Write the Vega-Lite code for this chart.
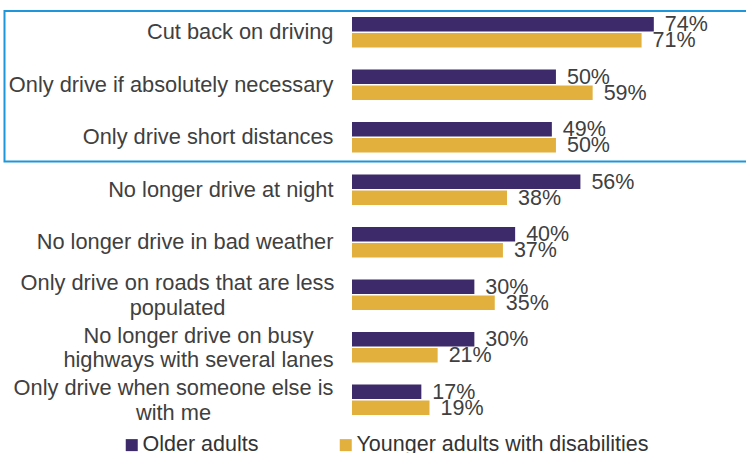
{
  "$schema": "https://vega.github.io/schema/vega-lite/v6.json",
  "width": 394,
  "height": 420,
  "autosize": {"type": "none"},
  "padding": {"left": 352, "top": 6, "right": 0, "bottom": 27},
  "background": "white",
  "config": {
    "view": {"stroke": null},
    "font": "Liberation Sans"
  },
  "datasets": {
    "bars": [
      {"cat": "Cut back on driving", "group": "Older adults", "value": 0.74},
      {"cat": "Cut back on driving", "group": "Younger adults with disabilities", "value": 0.71},
      {"cat": "Only drive if absolutely necessary", "group": "Older adults", "value": 0.50},
      {"cat": "Only drive if absolutely necessary", "group": "Younger adults with disabilities", "value": 0.59},
      {"cat": "Only drive short distances", "group": "Older adults", "value": 0.49},
      {"cat": "Only drive short distances", "group": "Younger adults with disabilities", "value": 0.50},
      {"cat": "No longer drive at night", "group": "Older adults", "value": 0.56},
      {"cat": "No longer drive at night", "group": "Younger adults with disabilities", "value": 0.38},
      {"cat": "No longer drive in bad weather", "group": "Older adults", "value": 0.40},
      {"cat": "No longer drive in bad weather", "group": "Younger adults with disabilities", "value": 0.37},
      {"cat": "Only drive on roads that are less populated", "group": "Older adults", "value": 0.30},
      {"cat": "Only drive on roads that are less populated", "group": "Younger adults with disabilities", "value": 0.35},
      {"cat": "No longer drive on busy highways with several lanes", "group": "Older adults", "value": 0.30},
      {"cat": "No longer drive on busy highways with several lanes", "group": "Younger adults with disabilities", "value": 0.21},
      {"cat": "Only drive when someone else is with me", "group": "Older adults", "value": 0.17},
      {"cat": "Only drive when someone else is with me", "group": "Younger adults with disabilities", "value": 0.19}
    ],
    "box": [
      {"top": 0.095, "bottom": 2.96, "left": -0.852, "right": 1.0}
    ]
  },
  "layer": [
    {
      "data": {"name": "bars"},
      "encoding": {
        "y": {
          "field": "cat", "type": "nominal", "sort": null, "title": null,
          "scale": {"paddingInner": 0.42, "paddingOuter": 0.21},
          "axis": {
            "domain": false, "ticks": false, "tickSize": 0,
            "labelFontSize": 21.8, "labelColor": "#404040", "labelLimit": 400,
            "labelLineHeight": 24.5,
            "labelAlign": {"condition": {"test": "length(datum.label) > 38", "value": "center"}, "value": "right"},
            "labelOffset": {"condition": {"test": "length(datum.label) > 38", "value": -11.5}, "value": 0},
            "labelPadding": {"condition": [
              {"test": "datum.label == 'Only drive on roads that are less populated'", "value": 175},
              {"test": "datum.label == 'No longer drive on busy highways with several lanes'", "value": 154},
              {"test": "datum.label == 'Only drive when someone else is with me'", "value": 179}
            ], "value": 19},
            "labelExpr": "datum.label == 'Only drive on roads that are less populated' ? ['Only drive on roads that are less', 'populated'] : datum.label == 'No longer drive on busy highways with several lanes' ? ['No longer drive on busy', 'highways with several lanes'] : datum.label == 'Only drive when someone else is with me' ? ['Only drive when someone else is', 'with me'] : datum.label"
          }
        },
        "yOffset": {"field": "group", "type": "nominal", "sort": null, "scale": {"paddingInner": 0.1, "paddingOuter": 0}},
        "x": {"field": "value", "type": "quantitative", "scale": {"domain": [0, 0.966], "nice": false, "zero": true}, "axis": null}
      },
      "layer": [
        {
          "mark": {"type": "bar"},
          "encoding": {
            "color": {
              "field": "group", "type": "nominal", "sort": null,
              "scale": {"domain": ["Older adults", "Younger adults with disabilities"], "range": ["#3C2A6A", "#E2B03C"]},
              "legend": {
                "title": null, "orient": "none", "direction": "horizontal",
                "legendX": -231, "legendY": 428,
                "symbolType": "square", "symbolSize": 144, "symbolStrokeWidth": 0,
                "labelFontSize": 21.5, "labelColor": "#333333", "labelOffset": 0,
                "columnPadding": 76, "labelLimit": 400
              }
            }
          }
        },
        {
          "mark": {"type": "text", "align": "left", "baseline": "middle", "dx": 11, "dy": 1, "fontSize": 21.5, "fill": "#404040"},
          "encoding": {
            "text": {"field": "value", "type": "quantitative", "format": ".0%"}
          }
        }
      ]
    },
    {
      "data": {"name": "box"},
      "mark": {"type": "rect", "filled": false, "stroke": "#1F95DA", "strokeWidth": 2},
      "encoding": {
        "y": {"field": "top", "type": "quantitative", "scale": {"domain": [0, 8], "reverse": true, "nice": false, "zero": false}, "axis": null},
        "y2": {"field": "bottom"},
        "x": {"field": "left", "type": "quantitative"},
        "x2": {"field": "right"}
      }
    }
  ],
  "resolve": {"scale": {"y": "independent"}}
}
